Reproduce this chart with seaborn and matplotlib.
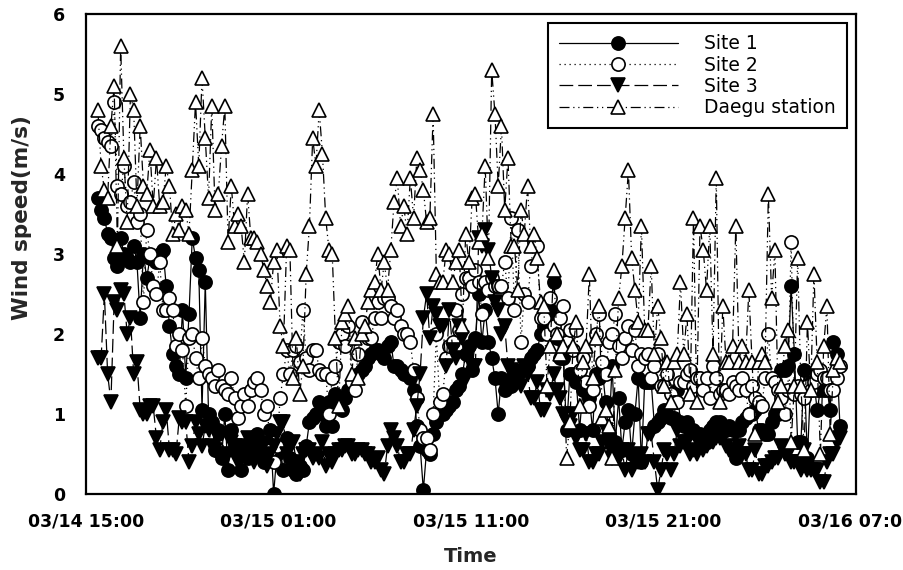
import numpy as np
import pandas as pd
import matplotlib
matplotlib.use("Agg")
import matplotlib.pyplot as plt
import matplotlib.dates as mdates
import seaborn as sns

# ---------------- data (~10-min steps) ----------------
start_time = "2008-03-14 15:37"
end_time = "2008-03-16 06:10"

site1 = [
    3.7, 3.55, 3.45, 3.25, 3.2, 2.95, 2.85, 3.2, 3.0, 2.95,
    2.9, 3.1, 2.9, 2.2, 3.0, 2.7, 2.95, 2.95, 2.9, 3.0,
    3.05, 2.6, 2.1, 1.75, 1.6, 1.5, 2.3, 1.45, 2.25, 3.2,
    2.95, 2.8, 1.05, 2.65, 1.0, 0.9, 0.55, 0.8, 0.45, 1.0,
    0.3, 0.8, 0.6, 0.5, 0.3, 0.5, 0.45, 0.6, 0.55, 0.75,
    0.6, 0.4, 0.65, 0.8, 0.0, 0.5, 0.55, 0.3, 0.7, 0.45,
    0.3, 0.25, 0.35, 0.3, 0.6, 0.9, 0.95, 1.0, 1.15, 1.0,
    0.85, 1.15, 0.85, 1.25, 1.1, 1.05, 1.2, 1.3, 1.35, 1.45,
    1.5, 1.55, 1.6, 1.7, 1.75, 1.8, 1.8, 1.75, 1.7, 1.85,
    1.9, 1.6, 1.6, 1.55, 1.5, 1.5, 1.45, 1.3, 0.85, 0.6,
    0.05, 0.55, 0.5, 0.75, 0.9, 1.0, 1.0, 1.05, 1.1, 1.15,
    1.3, 1.35, 1.5, 1.75, 1.85, 1.55, 1.95, 2.5, 1.9, 2.3,
    1.9, 1.7, 1.45, 1.0, 1.45, 1.3, 1.4, 1.35, 1.5, 1.5,
    1.55, 1.55, 1.6, 1.7, 1.75, 1.8, 2.0, 2.1, 2.2, 2.3,
    2.65, 1.95, 1.7, 1.7, 0.8, 1.5, 1.5, 1.4, 0.8, 1.3,
    1.3, 1.2, 0.8, 1.5, 1.45, 1.55, 1.15, 0.75, 1.6, 0.65,
    1.2, 0.55, 0.9, 1.05, 0.5, 1.0, 1.45, 0.4, 1.4, 1.4,
    1.4, 0.85, 0.9, 0.95, 1.05, 1.0, 0.95, 0.95, 1.3, 0.9,
    0.85, 0.9, 0.8, 0.8, 0.75, 0.75, 0.7, 0.65, 0.8, 0.85,
    0.9, 0.9, 0.85, 0.8, 0.85, 0.8, 0.45, 0.8, 0.9, 0.95,
    1.0, 1.0, 1.05, 0.8, 0.8, 0.75, 0.75, 0.9, 1.0, 1.0,
    1.55, 1.55, 1.6, 2.6, 1.75, 0.65, 0.65, 1.55, 0.45, 1.4,
    1.4, 1.05, 1.3, 1.3, 1.3, 1.05, 1.9, 1.75, 0.85,
]

site2 = [
    4.6, 4.55, 4.45, 4.4, 4.35, 4.9, 3.85, 3.75, 4.1, 3.6,
    3.65, 3.9, 3.4, 3.5, 2.4, 3.3, 3.0, 2.6, 2.5, 2.9,
    2.3, 2.3, 2.45, 2.3, 1.85, 2.0, 1.8, 1.1, 1.95, 2.0,
    1.7, 1.45, 1.95, 1.6, 1.5, 1.45, 1.35, 1.55, 1.35, 1.3,
    1.25, 1.45, 1.2, 0.95, 1.1, 1.25, 1.1, 1.3, 1.4, 1.45,
    1.3, 1.0, 1.1, 0.55, 0.4, 0.6, 1.2, 1.5, 1.8, 1.5,
    1.8, 1.85, 1.65, 2.3, 1.7, 1.55, 1.8, 1.8, 1.55, 1.5,
    1.5, 1.0, 1.45, 1.6, 1.9, 2.0, 1.85, 2.1, 1.4, 1.3,
    1.75, 2.15, 2.0, 1.95, 1.95, 2.2, 2.4, 2.2, 2.45, 2.45,
    2.35, 2.2, 2.3, 2.1, 2.0, 2.0, 1.9, 1.55, 1.2, 0.8,
    0.7, 0.7, 0.55, 1.0, 2.0, 1.15, 1.25, 1.7, 1.85, 1.9,
    2.3, 2.05, 2.5, 2.7, 2.7, 2.6, 2.8, 2.65, 2.25, 2.65,
    2.55, 2.7, 2.6, 2.6, 2.6, 2.9, 2.45, 3.45, 2.3, 3.3,
    1.9, 2.5, 2.4, 2.85, 3.15, 3.1, 2.2, 2.2, 2.0, 2.45,
    2.1, 2.0, 2.2, 2.35, 1.9, 2.05, 1.8, 2.05, 1.55, 1.7,
    1.4, 1.1, 1.3, 2.0, 2.25, 1.65, 1.5, 1.9, 2.0, 2.25,
    1.85, 1.7, 1.95, 2.1, 1.8, 2.05, 1.6, 1.75, 1.7, 1.75,
    1.45, 1.6, 1.75, 1.35, 1.35, 1.5, 1.25, 1.15, 1.15, 1.4,
    1.4, 1.5, 1.55, 1.35, 1.45, 1.45, 1.3, 1.45, 1.2, 1.6,
    1.45, 1.25, 1.3, 1.3, 1.25, 1.4, 1.35, 1.3, 1.45, 1.3,
    1.0, 1.35, 1.2, 1.15, 1.1, 1.45, 2.0, 1.45, 1.4, 1.3,
    1.2, 1.0, 1.3, 3.15, 1.25, 1.35, 1.25, 1.2, 1.35, 1.3,
    1.4, 1.5, 1.55, 1.45, 1.45, 1.3, 1.3, 1.45, 1.6,
]

site3 = [
    1.7, 1.7, 2.5, 1.5, 1.15, 2.4, 2.3, 2.55, 2.5, 2.0,
    2.2, 1.5, 1.65, 1.05, 1.0, 1.0, 1.1, 1.1, 0.7, 0.55,
    0.9, 1.05, 0.55, 0.55, 0.5, 0.95, 0.9, 0.9, 0.4, 0.6,
    0.9, 0.75, 0.6, 0.85, 0.8, 0.6, 0.55, 0.7, 0.75, 0.45,
    0.5, 0.65, 0.6, 0.4, 0.45, 0.6, 0.7, 0.5, 0.4, 0.65,
    0.55, 0.45, 0.35, 0.5, 0.6, 0.75, 0.9, 0.9, 0.5, 0.6,
    0.65, 0.4, 0.25, 0.5, 0.55, 0.55, 0.45, 0.5, 0.45, 0.65,
    0.35, 0.5, 0.4, 0.5, 0.55, 0.55, 0.6, 0.6, 0.5, 0.5,
    0.55, 0.55, 0.5, 0.5, 0.4, 0.4, 0.45, 0.3, 0.25, 0.6,
    0.8, 0.7, 0.6, 0.4, 0.4, 0.5, 0.5, 0.8, 1.1, 1.5,
    2.2, 2.5, 1.95, 2.35, 2.25, 2.1, 2.1, 1.6, 2.3, 1.8,
    1.7, 2.1, 1.95, 1.45, 1.8, 1.6, 1.6, 3.2, 3.1, 3.3,
    3.05, 2.7, 2.4, 2.3, 2.0, 2.1, 1.6, 1.55, 1.45, 1.4,
    1.35, 1.6, 1.5, 1.2, 1.2, 1.4, 1.05, 1.05, 1.3, 1.25,
    1.5, 1.3, 1.2, 1.0, 0.9, 0.85, 1.0, 0.7, 0.55, 0.55,
    0.75, 0.4, 0.4, 0.5, 0.5, 0.65, 0.8, 0.6, 0.45, 0.5,
    0.45, 0.55, 0.3, 0.55, 0.3, 0.4, 0.4, 0.5, 0.4, 0.75,
    0.75, 0.4, 0.05, 0.3, 0.55, 0.5, 0.3, 0.5, 0.8, 0.6,
    0.65, 0.65, 0.5, 0.55, 0.5, 0.6, 0.55, 0.6, 0.65, 0.65,
    0.7, 0.7, 0.7, 0.6, 0.55, 0.55, 0.75, 0.6, 0.5, 0.5,
    0.3, 0.3, 0.55, 0.25, 0.25, 0.35, 0.35, 0.4, 0.45, 0.45,
    0.6, 0.5, 0.5, 0.4, 0.4, 0.4, 0.3, 0.55, 0.3, 0.3,
    0.3, 0.3, 0.15, 0.15, 0.4, 0.5, 0.5, 0.65, 0.7,
]

daegu = [
    4.8, 4.1, 3.8, 3.7, 4.6, 5.1, 3.1, 5.6, 4.2, 3.4,
    5.0, 4.8, 3.6, 4.6, 3.85, 3.75, 4.3, 3.6, 4.2, 3.6,
    3.65, 4.1, 3.85, 3.25, 3.5, 3.3, 3.6, 3.55, 3.25, 4.05,
    4.9, 4.1, 5.2, 4.45, 3.7, 4.85, 3.55, 3.75, 4.35, 4.85,
    3.15, 3.85, 3.35, 3.5, 3.35, 2.9, 3.75, 3.2, 3.2, 3.15,
    3.0, 2.8, 2.6, 2.4, 2.9, 3.05, 2.1, 1.85, 3.1, 3.05,
    1.45, 1.95, 1.25, 1.6, 2.75, 3.35, 4.45, 4.1, 4.8, 4.25,
    3.45, 3.05, 3.0, 1.95, 1.1, 2.15, 2.25, 2.35, 1.5, 1.95,
    1.45, 2.0, 2.1, 2.4, 2.55, 2.65, 3.0, 2.55, 2.9, 2.55,
    3.05, 3.65, 3.95, 3.35, 3.6, 3.25, 3.95, 3.45, 4.2, 4.05,
    3.8, 3.4, 3.45, 4.75, 2.75, 2.65, 2.65, 3.05, 3.0, 2.65,
    2.9, 3.05, 2.1, 3.25, 2.9, 3.7, 3.75, 3.15, 3.25, 4.1,
    2.95, 5.3, 4.75, 3.85, 4.6, 3.55, 4.2, 3.1, 3.1, 2.55,
    3.55, 3.25, 3.85, 3.1, 3.25, 2.95, 2.4, 2.35, 1.35, 1.85,
    2.8, 2.0, 1.75, 1.85, 0.45, 0.9, 1.85, 2.15, 1.1, 1.65,
    1.85, 2.75, 1.45, 1.95, 2.35, 0.95, 1.05, 0.85, 0.45, 1.55,
    2.45, 2.85, 3.45, 4.05, 2.95, 2.55, 2.15, 3.35, 2.05, 2.05,
    2.85, 1.75, 2.35, 1.95, 1.35, 1.65, 1.15, 1.65, 1.75, 2.65,
    1.75, 2.25, 1.25, 3.45, 1.15, 3.35, 3.05, 2.55, 3.35, 1.75,
    3.95, 1.15, 2.35, 1.65, 1.65, 1.85, 3.35, 1.65, 1.85, 1.65,
    2.55, 1.65, 0.75, 1.65, 1.75, 1.65, 3.75, 2.45, 3.05, 1.15,
    1.35, 1.85, 2.05, 0.65, 1.35, 2.95, 1.35, 0.55, 2.15, 1.3,
    2.75, 1.65, 0.5, 1.85, 2.35, 0.75, 1.55, 1.7, 1.65,
]

series_names = ["Site 1", "Site 2", "Site 3", "Daegu station"]
y_ticks = [0, 1, 2, 3, 4, 5, 6]
x_start = "2008-03-14 15:00"
x_end = "2008-03-16 07:00"

# ---------------- plotting ----------------
sns.set_theme(style="white")
plt.rcParams['font.family'] = ['DejaVu Sans']

n_points = len(site1)
assert len(site2) == n_points and len(site3) == n_points and len(daegu) == n_points
times = pd.date_range(start_time, end_time, periods=n_points)
df = pd.DataFrame({"time": times, "Site 1": site1, "Site 2": site2,
                   "Site 3": site3, "Daegu station": daegu})

fig = plt.figure(figsize=(9.04, 5.70), dpi=100)
ax = fig.add_axes([86 / 904, 1 - 494 / 570, 770 / 904, 480 / 570])

styles = {
    "Site 1": dict(marker='o', markerfacecolor='black', linestyle='-'),
    "Site 2": dict(marker='o', markerfacecolor='white', linestyle=(0, (1, 3))),
    "Site 3": dict(marker='v', markerfacecolor='black', linestyle=(0, (11, 4))),
    "Daegu station": dict(marker='^', markerfacecolor='white',
                          linestyle=(0, (8, 3, 1, 3, 1, 3))),
}

for name in series_names:
    sns.lineplot(data=df, x="time", y=name, ax=ax, color='black',
                 linewidth=0.9, markersize=9.5, markeredgewidth=1.2,
                 markeredgecolor='black', estimator=None, label=name,
                 **styles[name])

ax.set_xlim(pd.Timestamp(x_start), pd.Timestamp(x_end))
ax.set_ylim(0, 6)

major = pd.date_range(x_start, x_end, freq="10h")
minor = pd.date_range(x_start, x_end, freq="2h")
ax.set_xticks(mdates.date2num(major))
ax.set_xticklabels([d.strftime("%m/%d %H:%M") for d in major],
                   fontweight='bold', fontsize=12.5)
ax.set_xticks(mdates.date2num(minor), minor=True)
ax.set_yticks(y_ticks)
ax.set_yticklabels([str(v) for v in y_ticks], fontweight='bold', fontsize=12.5)

ax.tick_params(axis='both', which='both', direction='out', color='black',
               width=1.2, labelcolor='black')
ax.tick_params(axis='x', which='major', length=7, pad=6)
ax.tick_params(axis='x', which='minor', length=6)
ax.tick_params(axis='y', which='major', length=6, pad=9)

for sp in ax.spines.values():
    sp.set_visible(True)
    sp.set_color('black')
    sp.set_linewidth(1.6)

ax.set_xlabel("Time", fontsize=14, fontweight='bold', va='center')
ax.xaxis.set_label_coords(0.5, -(557 - 494) / 480)
ax.set_ylabel("Wind speed(m/s)", fontsize=15.5, fontweight='bold', va='center')
ax.yaxis.set_label_coords(-(86 - 22) / 770, (494 - 218) / 480)

leg = ax.legend(loc='upper right', bbox_to_anchor=(0.988, 0.981),
                borderaxespad=0, frameon=True, fancybox=False,
                edgecolor='black', framealpha=1, fontsize=13.5,
                handlelength=6.3, handletextpad=1.4, labelspacing=0.12,
                borderpad=0.6)
leg.get_frame().set_linewidth(1.5)
for t in leg.get_texts():
    t.set_color('black')

fig.savefig("out.png", dpi=100)
